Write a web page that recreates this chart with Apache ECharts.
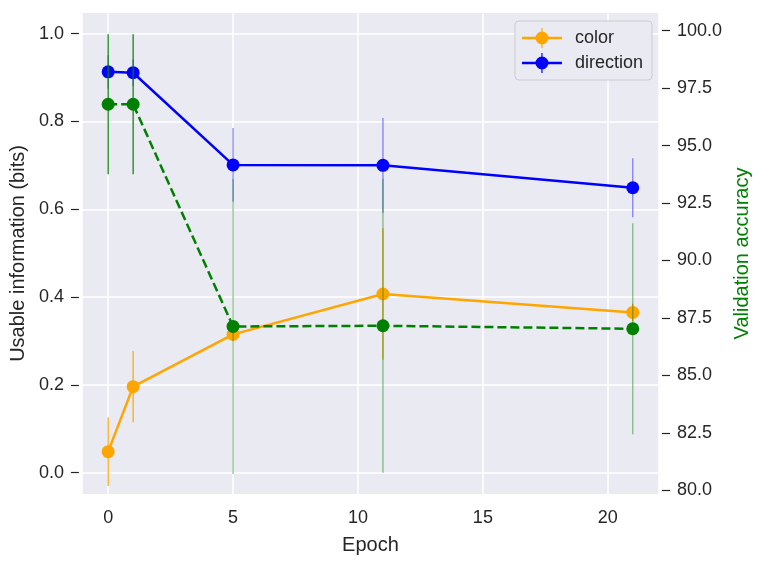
<!DOCTYPE html>
<html>
<head>
<meta charset="utf-8">
<script src="https://cdn.jsdelivr.net/npm/echarts@6/dist/echarts.min.js"></script>
<style>
  html, body { margin: 0; padding: 0; background: #fff; }
  #main { width: 761px; height: 566px; }
</style>
</head>
<body>
<div id="main"></div>
<script>
// epochs on the x axis
var epochs = [0, 1, 5, 11, 21];

// usable information (bits), left axis
var colorBits = [0.048, 0.196, 0.315, 0.407, 0.365];
var colorErr = [0.078, 0.081, 0.010, 0.150, 0.020];
var directionBits = [0.913, 0.911, 0.701, 0.700, 0.649];
var directionErr = [0.038, 0.030, 0.084, 0.108, 0.067];

// validation accuracy, right axis
var accuracy = [96.80, 96.80, 87.13, 87.16, 87.03];
var accuracyErr = [3.05, 3.05, 6.42, 6.40, 4.59];

// tick labels
var epochTicks = [0, 5, 10, 15, 20];
var bitsTicks = [0, 0.2, 0.4, 0.6, 0.8, 1.0];
var accTicks = [80, 82.5, 85, 87.5, 90, 92.5, 95, 97.5, 100];

var FONT = '"Liberation Sans", Arial, sans-serif';
var INK = '#262626';

function points(vals) {
    return epochs.map(function (e, i) { return [e, vals[i]]; });
}
function bars(vals, errs) {
    return epochs.map(function (e, i) { return [e, vals[i] - errs[i], vals[i] + errs[i]]; });
}
function barRenderer(color, fade) {
    return function (params, api) {
        var a = api.coord([api.value(0), api.value(1)]);
        var b = api.coord([api.value(0), api.value(2)]);
        return {
            type: 'line',
            shape: {x1: a[0], y1: a[1], x2: b[0], y2: b[1]},
            style: {stroke: color, lineWidth: 1.2, opacity: fade(api.value(0))}
        };
    };
}

// legend glyph: line + marker + vertical error bar
var legendIcon = 'path://M0 8.8H40V11.2H0Z M19.4 0H20.6V20H19.4Z M13.5 10A6.5 6.5 0 1 1 26.5 10A6.5 6.5 0 1 1 13.5 10Z';

var yAxisCommon = {
    type: 'value',
    nameLocation: 'middle',
    nameRotate: 90,
    offset: 3,
    axisLine: {show: false, onZero: false},
    axisTick: {show: true, length: 8, lineStyle: {color: INK, width: 1.2}},
    axisLabel: {color: INK, fontSize: 18, fontFamily: FONT, margin: 15}
};

var option = {
    backgroundColor: '#fff',
    animation: false,
    grid: {
        left: 81, right: 102, top: 13, bottom: 72,
        show: true, backgroundColor: '#EAEAF2', borderWidth: 0
    },
    legend: {
        data: [
            {name: 'color', icon: legendIcon},
            {name: 'direction', icon: legendIcon}
        ],
        orient: 'vertical',
        right: 109,
        top: 21,
        padding: [7, 9, 7, 7],
        itemWidth: 40,
        itemHeight: 20,
        itemGap: 5,
        backgroundColor: '#EAEAF2',
        borderColor: '#cccccc',
        borderWidth: 1,
        borderRadius: 4,
        textStyle: {color: INK, fontSize: 18, fontFamily: FONT, padding: [0, 0, 0, 8]}
    },
    xAxis: {
        type: 'value',
        min: -1.05,
        max: 22.05,
        name: 'Epoch',
        nameLocation: 'middle',
        nameGap: 41,
        nameTextStyle: {color: INK, fontSize: 20, fontFamily: FONT},
        axisLine: {show: false, onZero: false},
        axisTick: {show: false},
        axisLabel: {color: INK, fontSize: 18, fontFamily: FONT, margin: 15, customValues: epochTicks},
        splitLine: {show: true, lineStyle: {color: '#ffffff', width: 1.5}}
    },
    yAxis: [
        Object.assign({}, yAxisCommon, {
            position: 'left',
            min: -0.0485,
            max: 1.047,
            name: 'Usable information (bits)',
            nameGap: 46,
            nameTextStyle: {color: INK, fontSize: 20, fontFamily: FONT},
            axisTick: Object.assign({}, yAxisCommon.axisTick, {customValues: bitsTicks}),
            axisLabel: Object.assign({}, yAxisCommon.axisLabel, {
                customValues: bitsTicks,
                formatter: function (v) { return v.toFixed(1); }
            }),
            splitLine: {show: true, lineStyle: {color: '#ffffff', width: 1.5}}
        }),
        Object.assign({}, yAxisCommon, {
            position: 'right',
            min: 79.84,
            max: 100.77,
            name: 'Validation accuracy',
            nameGap: 65,
            nameTextStyle: {color: '#008000', fontSize: 20, fontFamily: FONT},
            axisTick: Object.assign({}, yAxisCommon.axisTick, {customValues: accTicks}),
            axisLabel: Object.assign({}, yAxisCommon.axisLabel, {
                customValues: accTicks,
                formatter: function (v) { return v.toFixed(1); }
            }),
            splitLine: {show: false}
        })
    ],
    series: [
        {
            name: 'color',
            type: 'line',
            z: 2,
            data: points(colorBits),
            symbol: 'circle',
            symbolSize: 13,
            lineStyle: {color: 'orange', width: 2.5},
            itemStyle: {color: 'orange'}
        },
        {
            name: 'color err',
            type: 'custom',
            z: 2,
            data: bars(colorBits, colorErr),
            encode: {x: 0, y: [1, 2]},
            renderItem: barRenderer('orange', function () { return 1; })
        },
        {
            name: 'direction',
            type: 'line',
            z: 3,
            data: points(directionBits),
            symbol: 'circle',
            symbolSize: 13,
            lineStyle: {color: 'blue', width: 2.5},
            itemStyle: {color: 'blue'}
        },
        {
            name: 'direction err',
            type: 'custom',
            z: 3,
            data: bars(directionBits, directionErr),
            encode: {x: 0, y: [1, 2]},
            renderItem: barRenderer('blue', function () { return 0.5; })
        },
        {
            name: 'accuracy',
            type: 'line',
            yAxisIndex: 1,
            z: 4,
            data: points(accuracy),
            symbol: 'circle',
            symbolSize: 13,
            lineStyle: {color: 'green', width: 2.5, type: [9, 4]},
            itemStyle: {color: 'green'}
        },
        {
            name: 'accuracy err',
            type: 'custom',
            yAxisIndex: 1,
            z: 4,
            data: bars(accuracy, accuracyErr),
            encode: {x: 0, y: [1, 2]},
            renderItem: barRenderer('green', function (e) { return e < 5 ? 1 : 0.5; })
        }
    ]
};

var myChart = echarts.init(document.getElementById('main'));
myChart.setOption(option);
</script>
</body>
</html>
